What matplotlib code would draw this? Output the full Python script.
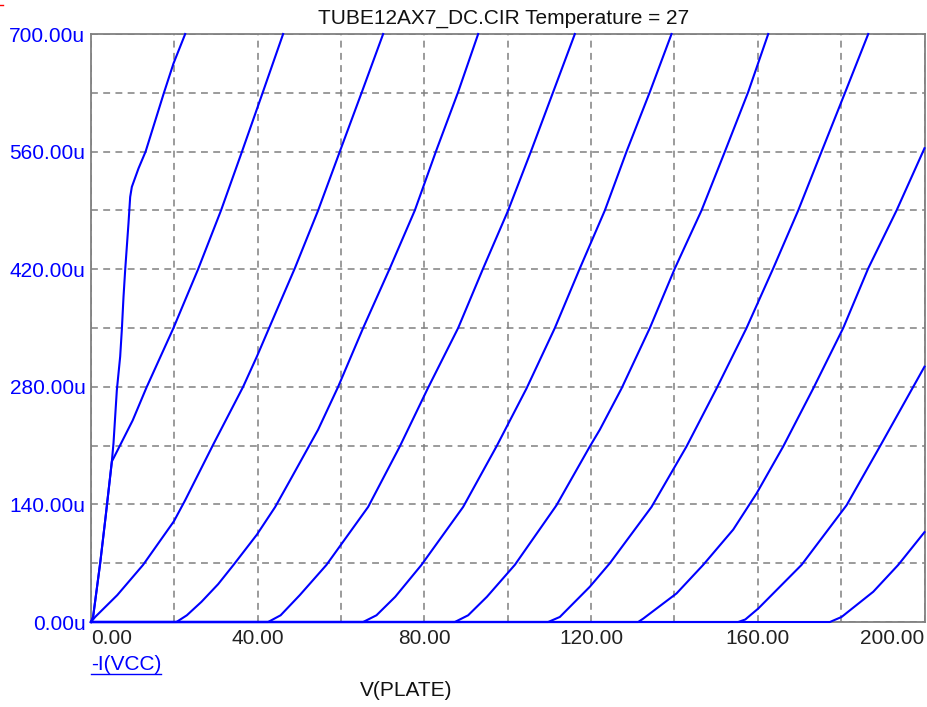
import matplotlib
matplotlib.use("Agg")
import matplotlib.pyplot as plt
from matplotlib.lines import Line2D
from matplotlib.ticker import MultipleLocator

W, H, DPI = 927, 707, 100

# Plate characteristics: plate voltage V(PLATE) in volts, plate current -I(VCC) in uA
v_a = [0, 0.5, 2.2, 3.5, 5.0, 5.4, 6.2, 7.0, 7.4, 7.8, 8.2, 8.6, 9.0, 9.4, 9.8, 11.4, 13.1, 15.3, 17.5, 19.8, 22.6]
i_a = [0, 6, 70, 125, 191, 213, 276, 316, 348, 387, 419, 447, 475, 506, 518, 540, 560, 595, 630, 665, 700]

v_b = [0, 0.5, 2.2, 3.5, 5.0, 10.0, 13.3, 19.7, 25.7, 31.2, 36.3, 40.9, 46.1]
i_b = [0, 6, 70, 125, 191, 240, 279, 349, 420, 490, 561, 626, 700]

v_c = [0, 1.0, 6.3, 12.5, 19.9, 22.6, 29.3, 36.5, 39.8, 44.9, 48.9, 54.5, 59.7, 65.0, 70.1]
i_c = [0, 6, 32, 68, 120, 145, 211, 280, 316, 375, 421, 490, 560, 631, 700]

v_d = [0, 20.5, 23.0, 26.5, 30.5, 34.2, 39.8, 44.2, 47.8, 54.5, 59.3, 65.3, 71.7, 77.7, 82.9, 88.1, 92.9]
i_d = [0, 0, 8, 24, 45, 68, 104, 137, 169, 229, 280, 350, 421, 490, 562, 631, 700]

v_e = [0, 42.5, 45.5, 50.1, 56.5, 66.5, 74.1, 80.8, 88.1, 94.1, 100.1, 105.7, 110.9, 116.1]
i_e = [0, 0, 8, 32, 68, 137, 209, 278, 350, 421, 490, 562, 631, 700]

v_f = [0, 65.3, 68.5, 73.0, 79.3, 89.3, 97.3, 104.5, 111.3, 117.3, 123.3, 128.5, 134.1, 139.3]
i_f = [0, 0, 8, 30, 68, 137, 209, 278, 350, 421, 490, 560, 631, 700]

v_g = [0, 87.3, 90.5, 95.0, 101.7, 111.7, 119.7, 122.1, 127.3, 134.1, 140.1, 146.5, 152.1, 157.7, 162.5]
i_g = [0, 0, 8, 30, 68, 139, 209, 229, 278, 350, 421, 490, 560, 631, 700]

v_h = [0, 109.7, 112.5, 119.7, 124.5, 134.5, 142.9, 150.1, 157.3, 163.7, 169.7, 175.3, 181.0, 186.5]
i_h = [0, 0, 6, 42, 70, 137, 209, 278, 350, 421, 490, 560, 631, 700]

v_i = [0, 131.3, 132.5, 140.5, 146.9, 154.1, 159.7, 166.1, 173.3, 180.5, 186.5, 193.3, 200.0]
i_i = [0, 0, 4, 34, 68, 110, 153, 209, 278, 350, 421, 490, 564]

v_j = [0, 155.3, 157.0, 160.1, 170.5, 181.3, 189.3, 200.0]
i_j = [0, 0, 3, 16, 68, 139, 209, 304]

v_k = [0, 177.3, 180.1, 187.7, 193.7, 200.0]
i_k = [0, 0, 6, 36, 68, 107]

curves = [(v_a, i_a), (v_b, i_b), (v_c, i_c), (v_d, i_d), (v_e, i_e), (v_f, i_f),
          (v_g, i_g), (v_h, i_h), (v_i, i_i), (v_j, i_j), (v_k, i_k)]

x_ticks = [0, 40, 80, 120, 160, 200]
x_labels = ["0.00", "40.00", "80.00", "120.00", "160.00", "200.00"]
y_ticks = [0, 140, 280, 420, 560, 700]
y_labels = ["0.00u", "140.00u", "280.00u", "420.00u", "560.00u", "700.00u"]

title = "TUBE12AX7_DC.CIR Temperature = 27"
x_name = "V(PLATE)"
y_name = "-I(VCC)"

BLUE = "#0000ff"
GRAY = "#808080"
FS = 15

plt.rcParams['font.family'] = ['Liberation Sans', 'DejaVu Sans']

fig = plt.figure(figsize=(W / DPI, H / DPI), dpi=DPI)
fig.patch.set_facecolor("white")
ax = fig.add_axes([91 / W, 1 - 622 / H, (924.5 - 91) / W, (622 - 34) / H])
ax.set_xlim(0, 200)
ax.set_ylim(0, 700)

for v, i in curves:
    ax.plot(v, i, color=BLUE, lw=1.5, zorder=3, clip_on=False,
            solid_joinstyle="round")

ax.set_xticks(x_ticks)
ax.set_xticklabels(x_labels)
ax.set_yticks(y_ticks)
ax.set_yticklabels(y_labels)
ax.xaxis.set_minor_locator(MultipleLocator(20))
ax.yaxis.set_minor_locator(MultipleLocator(70))
ax.grid(which="both", color=GRAY, lw=1.1, linestyle=(0, (4.5, 3.5)))
ax.set_axisbelow(True)

ax.tick_params(which="both", length=0)
ax.tick_params(axis="x", labelsize=FS, labelcolor="#222222", pad=5)
ax.tick_params(axis="y", labelsize=FS, labelcolor=BLUE, pad=4)
xl = ax.get_xticklabels()
xl[0].set_ha("left")
xl[-1].set_ha("right")

for s in ax.spines.values():
    s.set_color(GRAY)
    s.set_linewidth(1.3)

fig.text(504 / W, 1 - 19 / H, title, ha="center", va="center", fontsize=FS, color="#111111")
fig.text(406 / W, 1 - 690 / H, x_name, ha="center", va="center", fontsize=FS, color="#111111")
t = fig.text(91 / W, 1 - 665 / H, y_name, ha="left", va="center", fontsize=FS, color=BLUE)

# underline the trace name
fig.canvas.draw()
bb = t.get_window_extent(renderer=fig.canvas.get_renderer())
uy = (bb.y0 + 1) / H
fig.add_artist(Line2D([bb.x0 / W, bb.x1 / W], [uy, uy], color=BLUE, lw=1.0,
                      transform=fig.transFigure))
# small red marker in the window corner
fig.add_artist(Line2D([0, 3 / W], [1 - 5 / H, 1 - 5 / H], color="red", lw=1.0,
                      transform=fig.transFigure))

fig.savefig("out.png", dpi=DPI)
